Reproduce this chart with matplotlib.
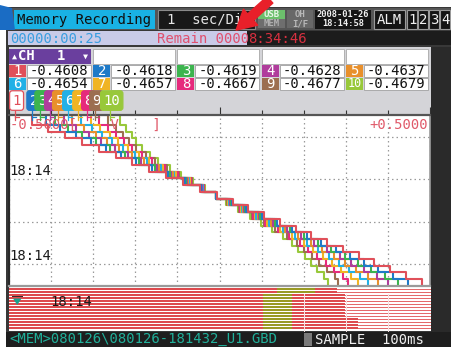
import matplotlib
matplotlib.use('Agg')
import matplotlib.pyplot as plt
import matplotlib.transforms as mtransforms
from matplotlib.patches import Rectangle, Polygon

plt.rcParams['font.family'] = ['DejaVu Sans Mono', 'DejaVu Sans']

# trace samples (time in s from top of the screen, values in V)
sample_times = [0.00, 0.22, 0.38, 0.53, 0.69, 0.85, 1.01, 1.17, 1.32, 1.48, 1.64, 1.80, 1.96,
                2.11, 2.27, 2.43, 2.59, 2.75, 2.90, 3.06, 3.22, 3.38, 3.54, 3.69, 3.85, 4.00]

ch1 = [-0.486, -0.445, -0.407, -0.367, -0.327, -0.286, -0.246, -0.208, -0.167, -0.127, -0.087, -0.046, -0.006,
       0.032, 0.068, 0.106, 0.144, 0.182, 0.217, 0.255, 0.293, 0.331, 0.367, 0.405, 0.443, 0.481]
ch2 = [-0.445, -0.412, -0.379, -0.341, -0.305, -0.270, -0.234, -0.198, -0.160, -0.122, -0.082, -0.044, -0.008,
       0.030, 0.063, 0.101, 0.137, 0.172, 0.208, 0.241, 0.277, 0.310, 0.343, 0.376, 0.412, 0.448]
ch3 = [-0.426, -0.391, -0.360, -0.327, -0.293, -0.260, -0.224, -0.191, -0.153, -0.118, -0.080, -0.044, -0.008,
       0.027, 0.061, 0.096, 0.132, 0.167, 0.201, 0.234, 0.265, 0.298, 0.329, 0.360, 0.393, 0.424]
ch4 = [-0.403, -0.369, -0.341, -0.310, -0.281, -0.248, -0.217, -0.186, -0.148, -0.115, -0.077, -0.042, -0.008,
       0.025, 0.058, 0.094, 0.127, 0.160, 0.194, 0.224, 0.255, 0.286, 0.312, 0.343, 0.374, 0.400]
ch5 = [-0.384, -0.350, -0.322, -0.293, -0.267, -0.239, -0.208, -0.179, -0.144, -0.110, -0.075, -0.042, -0.008,
       0.025, 0.056, 0.091, 0.122, 0.156, 0.186, 0.217, 0.243, 0.272, 0.298, 0.324, 0.353, 0.376]
ch6 = [-0.360, -0.329, -0.303, -0.279, -0.255, -0.229, -0.201, -0.172, -0.139, -0.108, -0.072, -0.039, -0.008,
       0.023, 0.053, 0.087, 0.118, 0.151, 0.179, 0.208, 0.234, 0.260, 0.284, 0.308, 0.334, 0.353]
ch7 = [-0.336, -0.305, -0.284, -0.260, -0.241, -0.217, -0.191, -0.167, -0.134, -0.103, -0.070, -0.039, -0.008,
       0.020, 0.051, 0.084, 0.113, 0.144, 0.172, 0.201, 0.222, 0.246, 0.267, 0.289, 0.312, 0.329]
ch8 = [-0.315, -0.286, -0.265, -0.246, -0.227, -0.208, -0.184, -0.160, -0.129, -0.099, -0.068, -0.037, -0.008,
       0.020, 0.049, 0.080, 0.108, 0.139, 0.165, 0.191, 0.210, 0.232, 0.253, 0.272, 0.293, 0.305]
ch9 = [-0.296, -0.265, -0.246, -0.229, -0.215, -0.198, -0.175, -0.153, -0.125, -0.096, -0.065, -0.037, -0.008,
       0.018, 0.046, 0.077, 0.106, 0.132, 0.160, 0.184, 0.201, 0.220, 0.236, 0.255, 0.274, 0.281]
ch10 = [-0.260, -0.236, -0.222, -0.208, -0.198, -0.184, -0.165, -0.146, -0.118, -0.091, -0.063, -0.034, -0.008,
        0.015, 0.044, 0.072, 0.099, 0.125, 0.151, 0.172, 0.186, 0.203, 0.217, 0.232, 0.248, 0.258]

traces = [ch1, ch2, ch3, ch4, ch5, ch6, ch7, ch8, ch9, ch10]
channel_names = ['1', '2', '3', '4', '5', '6', '7', '8', '9', '10']
channel_colors = ['#e0505a', '#1e7ac8', '#3cb44e', '#b03c9c', '#e8902c',
                  '#22b0e6', '#f0b424', '#e62a7c', '#9c6e50', '#98c83a']
current_values = [-0.4608, -0.4618, -0.4619, -0.4628, -0.4637,
                  -0.4654, -0.4657, -0.4667, -0.4677, -0.4679]
time_marks = [1.5, 3.5]
time_mark_labels = ['18:14', '18:14']

fig = plt.figure(figsize=(4.51, 3.47), dpi=100)
fig.patch.set_facecolor('white')
ui = fig.add_axes([0, 0, 1, 1])
ui.set_xlim(0, 451)
ui.set_ylim(347, 0)
ui.axis('off')


def box(x0, y0, x1, y1, fc, ec='none', lw=0, z=1):
    ui.add_patch(Rectangle((x0, y0), x1 - x0, y1 - y0, facecolor=fc,
                           edgecolor=ec, linewidth=lw, zorder=z))


def txt(x, y, s, color, size=10, ha='left', weight='normal', z=3):
    ui.text(x, y, s, color=color, fontsize=size, ha=ha, va='center',
            fontweight=weight, zorder=z)


# screen frame
box(6, 7, 451, 347, '#383838')

# header
box(6, 8, 451, 30, '#555555')
box(14, 9.5, 155, 28.5, '#19b2e4')
txt(17, 19.5, 'Memory Recording', '#101010', 10)
box(158, 9.5, 255, 28.5, '#181818', '#8a8a8a', 0.8)
txt(167, 19.5, '1  sec/Div', '#e6e6e6', 10)
box(258, 10, 285, 19, '#6cbf6c')
txt(271.5, 14.7, 'USB', '#e8f6e8', 6.5, 'center', 'bold')
box(258, 19, 285, 28, '#6e6e6e')
txt(271.5, 23.7, 'MEM', '#b0b0b0', 6.5, 'center', 'bold')
box(287, 10, 313, 28, '#686868')
txt(300, 14.7, 'OH', '#b8b8b8', 6.5, 'center', 'bold')
txt(300, 23.7, 'I/F', '#b8b8b8', 6.5, 'center', 'bold')
box(315, 9.5, 371, 28.5, '#141414')
txt(343, 14.7, '2008-01-26', '#f0f0f0', 6.3, 'center', 'bold')
txt(343, 23.7, '18:14:58', '#f0f0f0', 6.3, 'center', 'bold')
box(374, 9.5, 405, 28.5, '#141414', '#9a9a9a', 0.8)
txt(389.5, 19.5, 'ALM', '#f0f0f0', 10, 'center')
for k, s in enumerate('1234'):
    box(407 + 11 * k, 9.5, 417 + 11 * k, 28.5, '#141414', '#9a9a9a', 0.8)
    txt(412 + 11 * k, 19.5, s, '#f0f0f0', 10, 'center')

# elapsed / remain line
box(8, 31, 247, 45, '#c9cbe8')
txt(10, 38.5, '00000:00:25', '#3a9ee0', 10)
txt(157, 38.5, 'Remain 0000', '#e0506e', 10)
box(247, 31, 451, 45, '#1c1c1c')
txt(248, 38.5, '8:34:46', '#d83040', 10)

# channel value table
box(8.5, 47, 430.5, 115, '#d4d4d8')
box(430.5, 47, 451, 332, '#2a2a2a')
col_x = [9, 93.2, 177.4, 261.6, 345.8]
box(9, 48.5, 91, 63.5, '#6a3f9e')
txt(12, 56, '\u25b2', 'white', 6)
txt(18, 56, 'CH', 'white', 10, weight='bold')
txt(57, 56, '1', 'white', 10, weight='bold')
txt(83, 56.5, '\u25bc', 'white', 6)
for cx in col_x[1:]:
    box(cx, 48.5, cx + 82, 63.5, 'white', '#a8a8a8', 0.6)
for i, (name, col, val) in enumerate(zip(channel_names, channel_colors, current_values)):
    cx = col_x[i % 5]
    cy = 64.5 + 13 * (i // 5)
    box(cx, cy, cx + 17, cy + 12, col)
    txt(cx + 8.5, cy + 6.3, name, 'white', 10 if len(name) == 1 else 8.5, 'center')
    box(cx + 18, cy, cx + 82, cy + 12, 'white', '#a0a0a0', 0.6)
    txt(cx + 21, cy + 6.3, f'{val:.4f}', '#111111', 10)

# bottom strip (memory map)
RED = '#dd4a4e'
OLIVE = '#9a9a24'
box(9, 286.5, 430.5, 331, 'white')
for r in range(14):
    y = 288 + 3 * r
    if r < 2:
        segs = [(9, 277, RED), (277, 315, OLIVE), (315, 337, RED)]
        thin_from = 337
    elif r < 10:
        segs = [(9, 263, RED), (263, 292, OLIVE), (292, 345, RED)]
        thin_from = 345
    else:
        segs = [(9, 263, RED), (263, 292, OLIVE), (292, 358, RED)]
        thin_from = 358
    for x0, x1, c in segs:
        box(x0, y, x1, y + 2.4, c, z=2)
    box(thin_from, y + 0.5, 430.5, y + 1.9, '#e46a6c', z=2)
for gx in [304, 346, 388]:
    ui.plot([gx, gx], [294, 331], color='#f6e4e4', lw=0.7, zorder=2.5)
box(12, 295.5, 22.5, 297, '#303030', z=3)
ui.add_patch(Polygon([(13, 298.5), (21.5, 298.5), (17.2, 305)], closed=True,
                     facecolor='#1aa08e', edgecolor='none', zorder=3))
txt(50, 301.5, '18:14', '#1a1a1a', 10, z=4)

# status bar
box(6, 331.5, 451, 347, '#1e1e1e')
txt(9, 339.5, '<MEM>080126\\080126-181432_U1.GBD', '#20b09a', 10)
box(304, 333, 312, 346, '#7a7a7a')
txt(315, 339.5, 'SAMPLE  100ms', '#f0f0f0', 10)

# annotation arrows on the photo
ui.annotate('', xy=(234, 32), xytext=(272, -2),
            arrowprops=dict(arrowstyle='simple,head_width=1.1,head_length=1.0,tail_width=0.45',
                            color='#e8202a', mutation_scale=14), zorder=6)
ui.add_patch(Polygon([(0, 5), (12, 8), (15, 30), (0, 30)], closed=True,
                     facecolor='#1a6cc4', edgecolor='none', zorder=6))

# chart
ax = fig.add_axes([9 / 451, (347 - 285.5) / 347, 421 / 451, 170 / 347])
ax.set_facecolor('white')
ax.set_xlim(-0.5, 0.5)
ax.set_ylim(4.0, 0.0)
ax.set_axisbelow(True)
ax.xaxis.set_ticks_position('top')
ax.set_xticks([-0.5, 0.0, 0.5])
ax.set_xticks([-0.4, -0.3, -0.2, -0.1, 0.1, 0.2, 0.3, 0.4], minor=True)
ax.set_yticks([0.5, 1.5, 2.5, 3.5])
ax.tick_params(axis='x', which='major', direction='out', length=6, width=0.8,
               color='#333333', labeltop=False, labelbottom=False)
ax.tick_params(axis='x', which='minor', direction='out', length=3.5, width=0.8,
               color='#333333')
ax.tick_params(axis='y', length=0, labelleft=False)
ax.grid(True, which='both', color='#9a9a9a', lw=0.9, linestyle=(0, (1.2, 2.4)))
ax.spines['top'].set_color('#555555')
ax.spines['top'].set_linewidth(1.6)
ax.spines['left'].set_color('#2a2a2a')
ax.spines['left'].set_linewidth(1.6)
ax.spines['right'].set_color('#9a9a9a')
ax.spines['right'].set_linewidth(1.2)
ax.spines['bottom'].set_color('#9a9a9a')
ax.spines['bottom'].set_linewidth(1.6)

for k in range(len(traces) - 1, -1, -1):
    ax.plot(traces[k], sample_times, drawstyle='steps-post',
            color=channel_colors[k], lw=1.5)

# channel markers above the chart
mark_tr = ax.get_xaxis_transform()
for k, (vals, name, col) in enumerate(zip(traces, channel_names, channel_colors)):
    v0 = vals[0]
    ax.plot([v0, v0], [1.05, 0.975], color=col, lw=0.9, transform=mark_tr, clip_on=False, zorder=5)
    ax.plot([v0, v0 + 0.01], [0.99, 0.99], color=col, lw=0.9, transform=mark_tr, clip_on=False, zorder=5)
    if k == 0:
        fc, ec, tc = 'white', col, col
    else:
        fc, ec, tc = col, col, 'white'
    ax.text(v0 + 0.004, 1.088, name, transform=mark_tr, ha='center', va='center', fontsize=10,
            color=tc, zorder=6 + k, clip_on=False,
            bbox=dict(boxstyle='round,pad=0.2', fc=fc, ec=ec, lw=0.9))

ax.text(0.003, 0.944, '-0.5000[    V    ]', transform=ax.transAxes, color='#e05a6a',
        fontsize=10, ha='left', va='center')
ax.text(0.995, 0.944, '+0.5000', transform=ax.transAxes, color='#e05a6a',
        fontsize=10, ha='right', va='center')
lab_tr = mtransforms.blended_transform_factory(ax.transAxes, ax.transData)
for t, s in zip(time_marks, time_mark_labels):
    ax.text(0.0, t - 0.02, s, transform=lab_tr, color='#1a1a1a', fontsize=10,
            ha='left', va='bottom')

fig.savefig('out.png', dpi=100, facecolor=fig.get_facecolor())
